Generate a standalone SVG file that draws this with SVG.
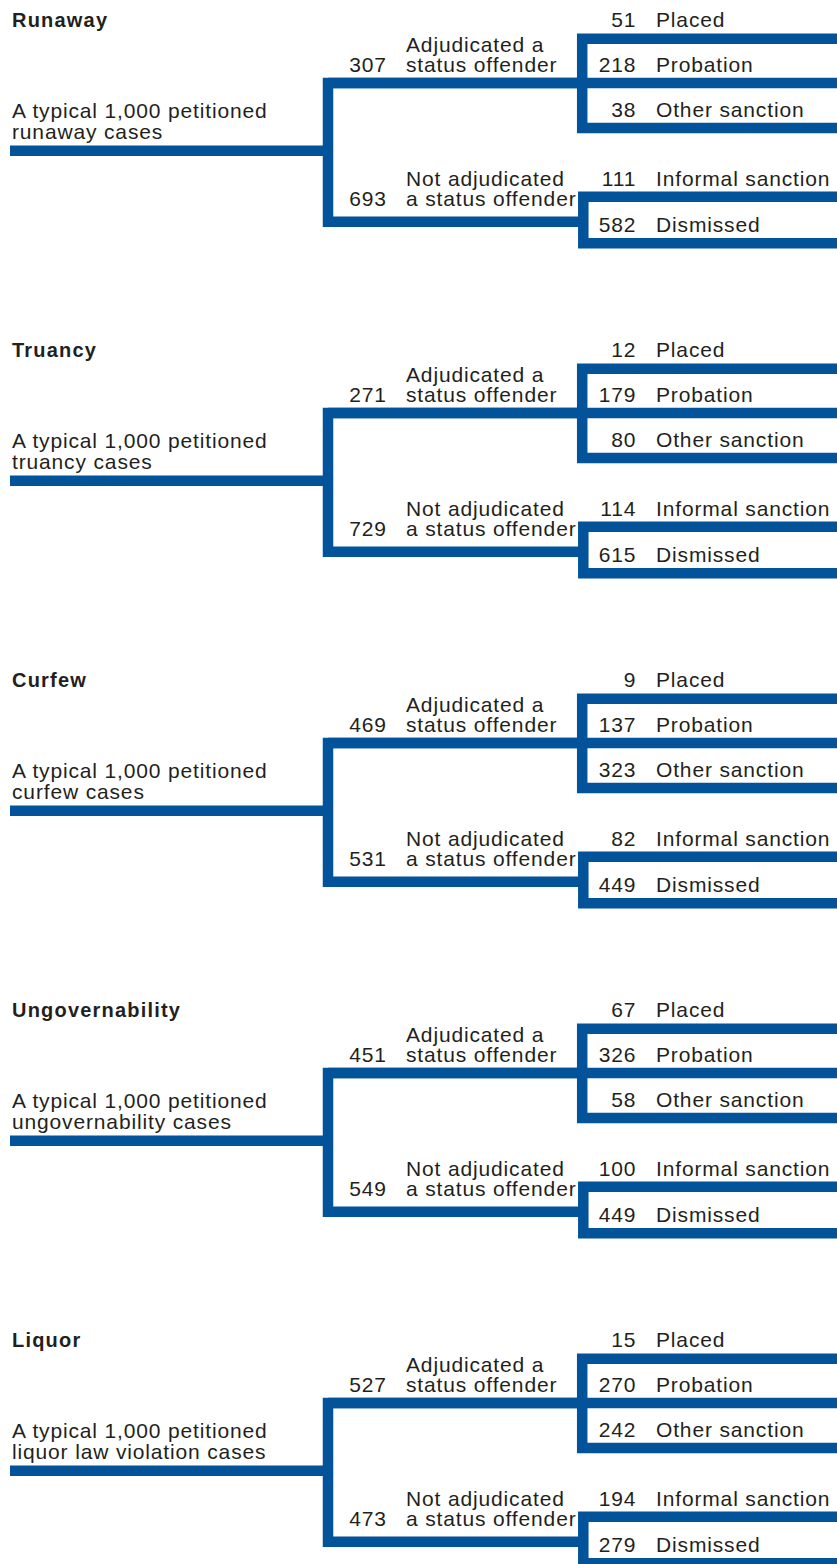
<svg xmlns="http://www.w3.org/2000/svg" width="837" height="1564" viewBox="0 0 837 1564">
<style>
text{font-family:"Liberation Sans",Arial,Helvetica,sans-serif;font-size:21px;letter-spacing:0.85px;fill:#231f20}
.t{font-weight:bold;font-size:20px;letter-spacing:1.2px}
.n{text-anchor:end}
</style>
<defs>
<g id="tree" fill="none" stroke="#02539a" stroke-width="10.5" stroke-linejoin="miter" stroke-linecap="butt">
<path d="M10 150.7 H328"/>
<path d="M582.2 83 H328 V221.7 H583.3"/>
<path d="M328 83 H837"/>
<path d="M837 38.8 H582.2 V128 H837"/>
<path d="M837 196.7 H583.3 V243.3 H837"/>
</g>
</defs>
<g id="connectors">
<use href="#tree"/>
<use href="#tree" y="330"/>
<use href="#tree" y="660"/>
<use href="#tree" y="990"/>
<use href="#tree" y="1320"/>
</g>

<g id="runaway">
<g id="runaway-title"><text class="t" x="12" y="27">Runaway</text></g>
<g id="runaway-root"><text x="12" y="118">A typical 1,000 petitioned</text><text x="12" y="138.5">runaway cases</text></g>
<g id="runaway-adj"><text class="n" x="386.8" y="71.7">307</text><text x="406" y="51.7">Adjudicated a</text><text x="406" y="71.7">status offender</text></g>
<g id="runaway-not"><text class="n" x="386.8" y="205.7">693</text><text x="406" y="185.7">Not adjudicated</text><text x="406" y="205.7">a status offender</text></g>
<g id="runaway-placed"><text class="n" x="636.3" y="27.3">51</text><text x="656" y="27.3">Placed</text></g>
<g id="runaway-probation"><text class="n" x="636.3" y="71.7">218</text><text x="656" y="71.7">Probation</text></g>
<g id="runaway-other"><text class="n" x="636.3" y="117">38</text><text x="656" y="117">Other sanction</text></g>
<g id="runaway-informal"><text class="n" x="636.3" y="185.7">111</text><text x="656" y="185.7">Informal sanction</text></g>
<g id="runaway-dismissed"><text class="n" x="636.3" y="232.3">582</text><text x="656" y="232.3">Dismissed</text></g>
</g>

<g id="truancy" transform="translate(0,330)">
<g id="truancy-title"><text class="t" x="12" y="27">Truancy</text></g>
<g id="truancy-root"><text x="12" y="118">A typical 1,000 petitioned</text><text x="12" y="138.5">truancy cases</text></g>
<g id="truancy-adj"><text class="n" x="386.8" y="71.7">271</text><text x="406" y="51.7">Adjudicated a</text><text x="406" y="71.7">status offender</text></g>
<g id="truancy-not"><text class="n" x="386.8" y="205.7">729</text><text x="406" y="185.7">Not adjudicated</text><text x="406" y="205.7">a status offender</text></g>
<g id="truancy-placed"><text class="n" x="636.3" y="27.3">12</text><text x="656" y="27.3">Placed</text></g>
<g id="truancy-probation"><text class="n" x="636.3" y="71.7">179</text><text x="656" y="71.7">Probation</text></g>
<g id="truancy-other"><text class="n" x="636.3" y="117">80</text><text x="656" y="117">Other sanction</text></g>
<g id="truancy-informal"><text class="n" x="636.3" y="185.7">114</text><text x="656" y="185.7">Informal sanction</text></g>
<g id="truancy-dismissed"><text class="n" x="636.3" y="232.3">615</text><text x="656" y="232.3">Dismissed</text></g>
</g>

<g id="curfew" transform="translate(0,660)">
<g id="curfew-title"><text class="t" x="12" y="27">Curfew</text></g>
<g id="curfew-root"><text x="12" y="118">A typical 1,000 petitioned</text><text x="12" y="138.5">curfew cases</text></g>
<g id="curfew-adj"><text class="n" x="386.8" y="71.7">469</text><text x="406" y="51.7">Adjudicated a</text><text x="406" y="71.7">status offender</text></g>
<g id="curfew-not"><text class="n" x="386.8" y="205.7">531</text><text x="406" y="185.7">Not adjudicated</text><text x="406" y="205.7">a status offender</text></g>
<g id="curfew-placed"><text class="n" x="636.3" y="27.3">9</text><text x="656" y="27.3">Placed</text></g>
<g id="curfew-probation"><text class="n" x="636.3" y="71.7">137</text><text x="656" y="71.7">Probation</text></g>
<g id="curfew-other"><text class="n" x="636.3" y="117">323</text><text x="656" y="117">Other sanction</text></g>
<g id="curfew-informal"><text class="n" x="636.3" y="185.7">82</text><text x="656" y="185.7">Informal sanction</text></g>
<g id="curfew-dismissed"><text class="n" x="636.3" y="232.3">449</text><text x="656" y="232.3">Dismissed</text></g>
</g>

<g id="ungovernability" transform="translate(0,990)">
<g id="ungovernability-title"><text class="t" x="12" y="27">Ungovernability</text></g>
<g id="ungovernability-root"><text x="12" y="118">A typical 1,000 petitioned</text><text x="12" y="138.5">ungovernability cases</text></g>
<g id="ungovernability-adj"><text class="n" x="386.8" y="71.7">451</text><text x="406" y="51.7">Adjudicated a</text><text x="406" y="71.7">status offender</text></g>
<g id="ungovernability-not"><text class="n" x="386.8" y="205.7">549</text><text x="406" y="185.7">Not adjudicated</text><text x="406" y="205.7">a status offender</text></g>
<g id="ungovernability-placed"><text class="n" x="636.3" y="27.3">67</text><text x="656" y="27.3">Placed</text></g>
<g id="ungovernability-probation"><text class="n" x="636.3" y="71.7">326</text><text x="656" y="71.7">Probation</text></g>
<g id="ungovernability-other"><text class="n" x="636.3" y="117">58</text><text x="656" y="117">Other sanction</text></g>
<g id="ungovernability-informal"><text class="n" x="636.3" y="185.7">100</text><text x="656" y="185.7">Informal sanction</text></g>
<g id="ungovernability-dismissed"><text class="n" x="636.3" y="232.3">449</text><text x="656" y="232.3">Dismissed</text></g>
</g>

<g id="liquor" transform="translate(0,1320)">
<g id="liquor-title"><text class="t" x="12" y="27">Liquor</text></g>
<g id="liquor-root"><text x="12" y="118">A typical 1,000 petitioned</text><text x="12" y="138.5">liquor law violation cases</text></g>
<g id="liquor-adj"><text class="n" x="386.8" y="71.7">527</text><text x="406" y="51.7">Adjudicated a</text><text x="406" y="71.7">status offender</text></g>
<g id="liquor-not"><text class="n" x="386.8" y="205.7">473</text><text x="406" y="185.7">Not adjudicated</text><text x="406" y="205.7">a status offender</text></g>
<g id="liquor-placed"><text class="n" x="636.3" y="27.3">15</text><text x="656" y="27.3">Placed</text></g>
<g id="liquor-probation"><text class="n" x="636.3" y="71.7">270</text><text x="656" y="71.7">Probation</text></g>
<g id="liquor-other"><text class="n" x="636.3" y="117">242</text><text x="656" y="117">Other sanction</text></g>
<g id="liquor-informal"><text class="n" x="636.3" y="185.7">194</text><text x="656" y="185.7">Informal sanction</text></g>
<g id="liquor-dismissed"><text class="n" x="636.3" y="232.3">279</text><text x="656" y="232.3">Dismissed</text></g>
</g>
</svg>
